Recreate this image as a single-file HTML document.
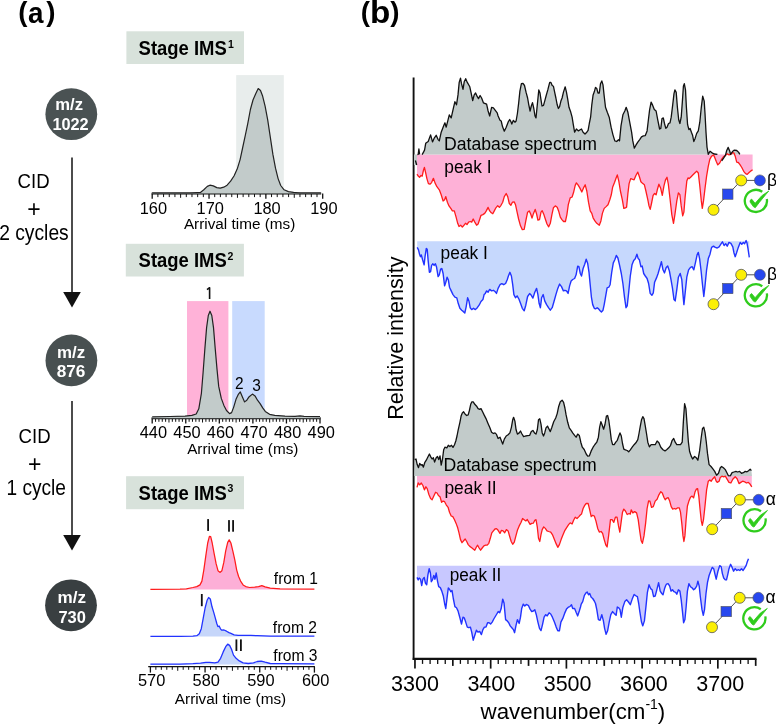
<!DOCTYPE html>
<html><head><meta charset="utf-8"><style>
html,body{margin:0;padding:0;background:#fff;}
svg{display:block;will-change:transform;}
</style></head><body>
<svg width="776" height="724" viewBox="0 0 776 724">
<text x="18.2" y="21.2" font-family="Liberation Sans, sans-serif" font-weight="bold" font-size="27.7">(</text>
<text x="46.3" y="21.2" font-family="Liberation Sans, sans-serif" font-weight="bold" font-size="27.7">)</text>
<text x="28.0" y="22.6" font-family="Liberation Sans, sans-serif" font-weight="bold" font-size="29.4" textLength="15.5" lengthAdjust="spacingAndGlyphs">a</text>
<text x="360.7" y="21.2" font-family="Liberation Sans, sans-serif" font-weight="bold" font-size="27.7">(</text>
<text x="390.2" y="21.2" font-family="Liberation Sans, sans-serif" font-weight="bold" font-size="27.7">)</text>
<text x="369.9" y="22.6" font-family="Liberation Sans, sans-serif" font-weight="bold" font-size="31.5" textLength="20.3" lengthAdjust="spacingAndGlyphs">b</text>
<circle cx="71.3" cy="114.2" r="25.9" fill="#4a5253"/>
<text x="55.199999999999996" y="109.9" font-family="Liberation Sans, sans-serif" font-weight="bold" font-size="16.3" fill="#fff" textLength="27.8" lengthAdjust="spacingAndGlyphs">m/z</text>
<text x="52.4" y="130.3" font-family="Liberation Sans, sans-serif" font-weight="bold" font-size="16.3" fill="#fff" textLength="36.3" lengthAdjust="spacingAndGlyphs">1022</text>
<circle cx="71.4" cy="360.4" r="25.9" fill="#485051"/>
<text x="57.0" y="357.8" font-family="Liberation Sans, sans-serif" font-weight="bold" font-size="16.3" fill="#fff" textLength="28.2" lengthAdjust="spacingAndGlyphs">m/z</text>
<text x="56.699999999999996" y="377.2" font-family="Liberation Sans, sans-serif" font-weight="bold" font-size="16.3" fill="#fff" textLength="28.7" lengthAdjust="spacingAndGlyphs">876</text>
<circle cx="71.0" cy="605.3" r="25.9" fill="#393f41"/>
<text x="57.5" y="603.4" font-family="Liberation Sans, sans-serif" font-weight="bold" font-size="16.3" fill="#fff" textLength="28.5" lengthAdjust="spacingAndGlyphs">m/z</text>
<text x="58.4" y="623.1" font-family="Liberation Sans, sans-serif" font-weight="bold" font-size="16.3" fill="#fff" textLength="27.5" lengthAdjust="spacingAndGlyphs">730</text>
<line x1="72" y1="157.6" x2="72" y2="293" stroke="#111" stroke-width="1.5"/>
<polygon points="63.2,292 80.8,292 72,307.5" fill="#111"/>
<line x1="72" y1="401" x2="72" y2="536" stroke="#111" stroke-width="1.5"/>
<polygon points="63.2,535 80.8,535 72,550.5" fill="#111"/>
<text x="17.6" y="188.3" font-family="Liberation Sans, sans-serif" font-size="19.8" textLength="32" lengthAdjust="spacingAndGlyphs">CID</text>
<text x="34.0" y="217.1" font-family="Liberation Sans, sans-serif" font-size="23" text-anchor="middle">+</text>
<text x="-0.8" y="239.6" font-family="Liberation Sans, sans-serif" font-size="21.3" textLength="69.5" lengthAdjust="spacingAndGlyphs">2 cycles</text>
<text x="18.6" y="443.2" font-family="Liberation Sans, sans-serif" font-size="19.8" textLength="32" lengthAdjust="spacingAndGlyphs">CID</text>
<text x="34.8" y="471.6" font-family="Liberation Sans, sans-serif" font-size="23" text-anchor="middle">+</text>
<text x="6.5" y="494.90000000000003" font-family="Liberation Sans, sans-serif" font-size="21.3" textLength="59.5" lengthAdjust="spacingAndGlyphs">1 cycle</text>
<rect x="126.4" y="31.3" width="117.6" height="32.7" fill="#d8e2db"/>
<text x="138.6" y="54.6" font-family="Liberation Sans, sans-serif" font-weight="bold" font-size="20.2" textLength="88.2" lengthAdjust="spacingAndGlyphs">Stage IMS</text>
<text x="228.0" y="47.5" font-family="Liberation Sans, sans-serif" font-weight="bold" font-size="10.5">1</text>
<rect x="125.8" y="243.8" width="118.10000000000001" height="32.69999999999999" fill="#d8e2db"/>
<text x="138.6" y="267.1" font-family="Liberation Sans, sans-serif" font-weight="bold" font-size="20.2" textLength="88.2" lengthAdjust="spacingAndGlyphs">Stage IMS</text>
<text x="227.6" y="260.0" font-family="Liberation Sans, sans-serif" font-weight="bold" font-size="10.5">2</text>
<rect x="126.1" y="476.2" width="117.9" height="33.0" fill="#d8e2db"/>
<text x="138.6" y="499.5" font-family="Liberation Sans, sans-serif" font-weight="bold" font-size="20.2" textLength="88.2" lengthAdjust="spacingAndGlyphs">Stage IMS</text>
<text x="227.6" y="492.4" font-family="Liberation Sans, sans-serif" font-weight="bold" font-size="10.5">3</text>
<rect x="236.2" y="75.1" width="47.6" height="118.4" fill="#e8edec"/>
<line x1="151.7" y1="193.5" x2="321.2" y2="193.5" stroke="#111" stroke-width="2.2"/>
<line x1="152.20" y1="193.5" x2="152.20" y2="198.8" stroke="#111" stroke-width="1.3"/>
<line x1="157.88" y1="193.5" x2="157.88" y2="197.1" stroke="#111" stroke-width="1"/>
<line x1="163.57" y1="193.5" x2="163.57" y2="197.1" stroke="#111" stroke-width="1"/>
<line x1="169.25" y1="193.5" x2="169.25" y2="197.1" stroke="#111" stroke-width="1"/>
<line x1="174.93" y1="193.5" x2="174.93" y2="197.1" stroke="#111" stroke-width="1"/>
<line x1="180.61" y1="193.5" x2="180.61" y2="197.8" stroke="#111" stroke-width="1"/>
<line x1="186.30" y1="193.5" x2="186.30" y2="197.1" stroke="#111" stroke-width="1"/>
<line x1="191.98" y1="193.5" x2="191.98" y2="197.1" stroke="#111" stroke-width="1"/>
<line x1="197.66" y1="193.5" x2="197.66" y2="197.1" stroke="#111" stroke-width="1"/>
<line x1="203.35" y1="193.5" x2="203.35" y2="197.1" stroke="#111" stroke-width="1"/>
<line x1="209.03" y1="193.5" x2="209.03" y2="198.8" stroke="#111" stroke-width="1.3"/>
<line x1="214.71" y1="193.5" x2="214.71" y2="197.1" stroke="#111" stroke-width="1"/>
<line x1="220.40" y1="193.5" x2="220.40" y2="197.1" stroke="#111" stroke-width="1"/>
<line x1="226.08" y1="193.5" x2="226.08" y2="197.1" stroke="#111" stroke-width="1"/>
<line x1="231.76" y1="193.5" x2="231.76" y2="197.1" stroke="#111" stroke-width="1"/>
<line x1="237.44" y1="193.5" x2="237.44" y2="197.8" stroke="#111" stroke-width="1"/>
<line x1="243.13" y1="193.5" x2="243.13" y2="197.1" stroke="#111" stroke-width="1"/>
<line x1="248.81" y1="193.5" x2="248.81" y2="197.1" stroke="#111" stroke-width="1"/>
<line x1="254.49" y1="193.5" x2="254.49" y2="197.1" stroke="#111" stroke-width="1"/>
<line x1="260.18" y1="193.5" x2="260.18" y2="197.1" stroke="#111" stroke-width="1"/>
<line x1="265.86" y1="193.5" x2="265.86" y2="198.8" stroke="#111" stroke-width="1.3"/>
<line x1="271.54" y1="193.5" x2="271.54" y2="197.1" stroke="#111" stroke-width="1"/>
<line x1="277.23" y1="193.5" x2="277.23" y2="197.1" stroke="#111" stroke-width="1"/>
<line x1="282.91" y1="193.5" x2="282.91" y2="197.1" stroke="#111" stroke-width="1"/>
<line x1="288.59" y1="193.5" x2="288.59" y2="197.1" stroke="#111" stroke-width="1"/>
<line x1="294.27" y1="193.5" x2="294.27" y2="197.8" stroke="#111" stroke-width="1"/>
<line x1="299.96" y1="193.5" x2="299.96" y2="197.1" stroke="#111" stroke-width="1"/>
<line x1="305.64" y1="193.5" x2="305.64" y2="197.1" stroke="#111" stroke-width="1"/>
<line x1="311.32" y1="193.5" x2="311.32" y2="197.1" stroke="#111" stroke-width="1"/>
<line x1="317.01" y1="193.5" x2="317.01" y2="197.1" stroke="#111" stroke-width="1"/>
<line x1="322.69" y1="193.5" x2="322.69" y2="198.8" stroke="#111" stroke-width="1.3"/>
<text x="153.40" y="213.5" font-family="Liberation Sans, sans-serif" font-size="16.4" text-anchor="middle">160</text>
<text x="210.23" y="213.5" font-family="Liberation Sans, sans-serif" font-size="16.4" text-anchor="middle">170</text>
<text x="267.06" y="213.5" font-family="Liberation Sans, sans-serif" font-size="16.4" text-anchor="middle">180</text>
<text x="323.89" y="213.5" font-family="Liberation Sans, sans-serif" font-size="16.4" text-anchor="middle">190</text>
<text x="239.6" y="229" font-family="Liberation Sans, sans-serif" font-size="15.3" text-anchor="middle">Arrival time (ms)</text>
<rect x="187" y="301.1" width="41.4" height="117" fill="#ffb2d8"/>
<rect x="232.2" y="301.1" width="32.5" height="117" fill="#c8dafe"/>
<line x1="151.7" y1="418.2" x2="320.5" y2="418.2" stroke="#111" stroke-width="2.2"/>
<line x1="152.20" y1="418.2" x2="152.20" y2="423.5" stroke="#111" stroke-width="1.3"/>
<line x1="155.56" y1="418.2" x2="155.56" y2="421.8" stroke="#111" stroke-width="1"/>
<line x1="158.91" y1="418.2" x2="158.91" y2="421.8" stroke="#111" stroke-width="1"/>
<line x1="162.27" y1="418.2" x2="162.27" y2="421.8" stroke="#111" stroke-width="1"/>
<line x1="165.62" y1="418.2" x2="165.62" y2="421.8" stroke="#111" stroke-width="1"/>
<line x1="168.98" y1="418.2" x2="168.98" y2="422.5" stroke="#111" stroke-width="1"/>
<line x1="172.34" y1="418.2" x2="172.34" y2="421.8" stroke="#111" stroke-width="1"/>
<line x1="175.69" y1="418.2" x2="175.69" y2="421.8" stroke="#111" stroke-width="1"/>
<line x1="179.05" y1="418.2" x2="179.05" y2="421.8" stroke="#111" stroke-width="1"/>
<line x1="182.40" y1="418.2" x2="182.40" y2="421.8" stroke="#111" stroke-width="1"/>
<line x1="185.76" y1="418.2" x2="185.76" y2="423.5" stroke="#111" stroke-width="1.3"/>
<line x1="189.12" y1="418.2" x2="189.12" y2="421.8" stroke="#111" stroke-width="1"/>
<line x1="192.47" y1="418.2" x2="192.47" y2="421.8" stroke="#111" stroke-width="1"/>
<line x1="195.83" y1="418.2" x2="195.83" y2="421.8" stroke="#111" stroke-width="1"/>
<line x1="199.18" y1="418.2" x2="199.18" y2="421.8" stroke="#111" stroke-width="1"/>
<line x1="202.54" y1="418.2" x2="202.54" y2="422.5" stroke="#111" stroke-width="1"/>
<line x1="205.90" y1="418.2" x2="205.90" y2="421.8" stroke="#111" stroke-width="1"/>
<line x1="209.25" y1="418.2" x2="209.25" y2="421.8" stroke="#111" stroke-width="1"/>
<line x1="212.61" y1="418.2" x2="212.61" y2="421.8" stroke="#111" stroke-width="1"/>
<line x1="215.96" y1="418.2" x2="215.96" y2="421.8" stroke="#111" stroke-width="1"/>
<line x1="219.32" y1="418.2" x2="219.32" y2="423.5" stroke="#111" stroke-width="1.3"/>
<line x1="222.68" y1="418.2" x2="222.68" y2="421.8" stroke="#111" stroke-width="1"/>
<line x1="226.03" y1="418.2" x2="226.03" y2="421.8" stroke="#111" stroke-width="1"/>
<line x1="229.39" y1="418.2" x2="229.39" y2="421.8" stroke="#111" stroke-width="1"/>
<line x1="232.74" y1="418.2" x2="232.74" y2="421.8" stroke="#111" stroke-width="1"/>
<line x1="236.10" y1="418.2" x2="236.10" y2="422.5" stroke="#111" stroke-width="1"/>
<line x1="239.46" y1="418.2" x2="239.46" y2="421.8" stroke="#111" stroke-width="1"/>
<line x1="242.81" y1="418.2" x2="242.81" y2="421.8" stroke="#111" stroke-width="1"/>
<line x1="246.17" y1="418.2" x2="246.17" y2="421.8" stroke="#111" stroke-width="1"/>
<line x1="249.52" y1="418.2" x2="249.52" y2="421.8" stroke="#111" stroke-width="1"/>
<line x1="252.88" y1="418.2" x2="252.88" y2="423.5" stroke="#111" stroke-width="1.3"/>
<line x1="256.24" y1="418.2" x2="256.24" y2="421.8" stroke="#111" stroke-width="1"/>
<line x1="259.59" y1="418.2" x2="259.59" y2="421.8" stroke="#111" stroke-width="1"/>
<line x1="262.95" y1="418.2" x2="262.95" y2="421.8" stroke="#111" stroke-width="1"/>
<line x1="266.30" y1="418.2" x2="266.30" y2="421.8" stroke="#111" stroke-width="1"/>
<line x1="269.66" y1="418.2" x2="269.66" y2="422.5" stroke="#111" stroke-width="1"/>
<line x1="273.02" y1="418.2" x2="273.02" y2="421.8" stroke="#111" stroke-width="1"/>
<line x1="276.37" y1="418.2" x2="276.37" y2="421.8" stroke="#111" stroke-width="1"/>
<line x1="279.73" y1="418.2" x2="279.73" y2="421.8" stroke="#111" stroke-width="1"/>
<line x1="283.08" y1="418.2" x2="283.08" y2="421.8" stroke="#111" stroke-width="1"/>
<line x1="286.44" y1="418.2" x2="286.44" y2="423.5" stroke="#111" stroke-width="1.3"/>
<line x1="289.80" y1="418.2" x2="289.80" y2="421.8" stroke="#111" stroke-width="1"/>
<line x1="293.15" y1="418.2" x2="293.15" y2="421.8" stroke="#111" stroke-width="1"/>
<line x1="296.51" y1="418.2" x2="296.51" y2="421.8" stroke="#111" stroke-width="1"/>
<line x1="299.86" y1="418.2" x2="299.86" y2="421.8" stroke="#111" stroke-width="1"/>
<line x1="303.22" y1="418.2" x2="303.22" y2="422.5" stroke="#111" stroke-width="1"/>
<line x1="306.58" y1="418.2" x2="306.58" y2="421.8" stroke="#111" stroke-width="1"/>
<line x1="309.93" y1="418.2" x2="309.93" y2="421.8" stroke="#111" stroke-width="1"/>
<line x1="313.29" y1="418.2" x2="313.29" y2="421.8" stroke="#111" stroke-width="1"/>
<line x1="316.64" y1="418.2" x2="316.64" y2="421.8" stroke="#111" stroke-width="1"/>
<line x1="320.00" y1="418.2" x2="320.00" y2="423.5" stroke="#111" stroke-width="1.3"/>
<text x="153.40" y="438.3" font-family="Liberation Sans, sans-serif" font-size="16.4" text-anchor="middle">440</text>
<text x="186.96" y="438.3" font-family="Liberation Sans, sans-serif" font-size="16.4" text-anchor="middle">450</text>
<text x="220.52" y="438.3" font-family="Liberation Sans, sans-serif" font-size="16.4" text-anchor="middle">460</text>
<text x="254.08" y="438.3" font-family="Liberation Sans, sans-serif" font-size="16.4" text-anchor="middle">470</text>
<text x="287.64" y="438.3" font-family="Liberation Sans, sans-serif" font-size="16.4" text-anchor="middle">480</text>
<text x="321.20" y="438.3" font-family="Liberation Sans, sans-serif" font-size="16.4" text-anchor="middle">490</text>
<text x="242.8" y="454" font-family="Liberation Sans, sans-serif" font-size="15.3" text-anchor="middle">Arrival time (ms)</text>
<line x1="148.2" y1="666.6" x2="314.9" y2="666.6" stroke="#111" stroke-width="1.3"/>
<line x1="150.40" y1="666.6" x2="150.40" y2="672.6" stroke="#111" stroke-width="1.3"/>
<line x1="155.87" y1="666.6" x2="155.87" y2="669.8000000000001" stroke="#111" stroke-width="1"/>
<line x1="161.33" y1="666.6" x2="161.33" y2="669.8000000000001" stroke="#111" stroke-width="1"/>
<line x1="166.80" y1="666.6" x2="166.80" y2="669.8000000000001" stroke="#111" stroke-width="1"/>
<line x1="172.27" y1="666.6" x2="172.27" y2="669.8000000000001" stroke="#111" stroke-width="1"/>
<line x1="177.74" y1="666.6" x2="177.74" y2="670.8000000000001" stroke="#111" stroke-width="1"/>
<line x1="183.20" y1="666.6" x2="183.20" y2="669.8000000000001" stroke="#111" stroke-width="1"/>
<line x1="188.67" y1="666.6" x2="188.67" y2="669.8000000000001" stroke="#111" stroke-width="1"/>
<line x1="194.14" y1="666.6" x2="194.14" y2="669.8000000000001" stroke="#111" stroke-width="1"/>
<line x1="199.60" y1="666.6" x2="199.60" y2="669.8000000000001" stroke="#111" stroke-width="1"/>
<line x1="205.07" y1="666.6" x2="205.07" y2="672.6" stroke="#111" stroke-width="1.3"/>
<line x1="210.54" y1="666.6" x2="210.54" y2="669.8000000000001" stroke="#111" stroke-width="1"/>
<line x1="216.00" y1="666.6" x2="216.00" y2="669.8000000000001" stroke="#111" stroke-width="1"/>
<line x1="221.47" y1="666.6" x2="221.47" y2="669.8000000000001" stroke="#111" stroke-width="1"/>
<line x1="226.94" y1="666.6" x2="226.94" y2="669.8000000000001" stroke="#111" stroke-width="1"/>
<line x1="232.41" y1="666.6" x2="232.41" y2="670.8000000000001" stroke="#111" stroke-width="1"/>
<line x1="237.87" y1="666.6" x2="237.87" y2="669.8000000000001" stroke="#111" stroke-width="1"/>
<line x1="243.34" y1="666.6" x2="243.34" y2="669.8000000000001" stroke="#111" stroke-width="1"/>
<line x1="248.81" y1="666.6" x2="248.81" y2="669.8000000000001" stroke="#111" stroke-width="1"/>
<line x1="254.27" y1="666.6" x2="254.27" y2="669.8000000000001" stroke="#111" stroke-width="1"/>
<line x1="259.74" y1="666.6" x2="259.74" y2="672.6" stroke="#111" stroke-width="1.3"/>
<line x1="265.21" y1="666.6" x2="265.21" y2="669.8000000000001" stroke="#111" stroke-width="1"/>
<line x1="270.67" y1="666.6" x2="270.67" y2="669.8000000000001" stroke="#111" stroke-width="1"/>
<line x1="276.14" y1="666.6" x2="276.14" y2="669.8000000000001" stroke="#111" stroke-width="1"/>
<line x1="281.61" y1="666.6" x2="281.61" y2="669.8000000000001" stroke="#111" stroke-width="1"/>
<line x1="287.07" y1="666.6" x2="287.07" y2="670.8000000000001" stroke="#111" stroke-width="1"/>
<line x1="292.54" y1="666.6" x2="292.54" y2="669.8000000000001" stroke="#111" stroke-width="1"/>
<line x1="298.01" y1="666.6" x2="298.01" y2="669.8000000000001" stroke="#111" stroke-width="1"/>
<line x1="303.48" y1="666.6" x2="303.48" y2="669.8000000000001" stroke="#111" stroke-width="1"/>
<line x1="308.94" y1="666.6" x2="308.94" y2="669.8000000000001" stroke="#111" stroke-width="1"/>
<line x1="314.41" y1="666.6" x2="314.41" y2="672.6" stroke="#111" stroke-width="1.3"/>
<text x="151.60" y="686.3" font-family="Liberation Sans, sans-serif" font-size="16.4" text-anchor="middle">570</text>
<text x="206.27" y="686.3" font-family="Liberation Sans, sans-serif" font-size="16.4" text-anchor="middle">580</text>
<text x="260.94" y="686.3" font-family="Liberation Sans, sans-serif" font-size="16.4" text-anchor="middle">590</text>
<text x="315.61" y="686.3" font-family="Liberation Sans, sans-serif" font-size="16.4" text-anchor="middle">600</text>
<text x="230.5" y="703.8" font-family="Liberation Sans, sans-serif" font-size="15.3" text-anchor="middle">Arrival time (ms)</text>
<line x1="413.6" y1="77.5" x2="413.6" y2="660.0" stroke="#111" stroke-width="1.9"/>
<line x1="412.7" y1="658.9" x2="756.5" y2="658.9" stroke="#111" stroke-width="2.2"/>
<line x1="414.96" y1="658.9" x2="414.96" y2="668.6" stroke="#111" stroke-width="1.7"/>
<line x1="422.53" y1="658.9" x2="422.53" y2="663.9" stroke="#111" stroke-width="1.3"/>
<line x1="430.10" y1="658.9" x2="430.10" y2="663.9" stroke="#111" stroke-width="1.3"/>
<line x1="437.68" y1="658.9" x2="437.68" y2="663.9" stroke="#111" stroke-width="1.3"/>
<line x1="445.25" y1="658.9" x2="445.25" y2="663.9" stroke="#111" stroke-width="1.3"/>
<line x1="452.82" y1="658.9" x2="452.82" y2="665.9" stroke="#111" stroke-width="1.7"/>
<line x1="460.39" y1="658.9" x2="460.39" y2="663.9" stroke="#111" stroke-width="1.3"/>
<line x1="467.96" y1="658.9" x2="467.96" y2="663.9" stroke="#111" stroke-width="1.3"/>
<line x1="475.54" y1="658.9" x2="475.54" y2="663.9" stroke="#111" stroke-width="1.3"/>
<line x1="483.11" y1="658.9" x2="483.11" y2="663.9" stroke="#111" stroke-width="1.3"/>
<line x1="490.68" y1="658.9" x2="490.68" y2="668.6" stroke="#111" stroke-width="1.7"/>
<line x1="498.25" y1="658.9" x2="498.25" y2="663.9" stroke="#111" stroke-width="1.3"/>
<line x1="505.82" y1="658.9" x2="505.82" y2="663.9" stroke="#111" stroke-width="1.3"/>
<line x1="513.40" y1="658.9" x2="513.40" y2="663.9" stroke="#111" stroke-width="1.3"/>
<line x1="520.97" y1="658.9" x2="520.97" y2="663.9" stroke="#111" stroke-width="1.3"/>
<line x1="528.54" y1="658.9" x2="528.54" y2="665.9" stroke="#111" stroke-width="1.7"/>
<line x1="536.11" y1="658.9" x2="536.11" y2="663.9" stroke="#111" stroke-width="1.3"/>
<line x1="543.68" y1="658.9" x2="543.68" y2="663.9" stroke="#111" stroke-width="1.3"/>
<line x1="551.26" y1="658.9" x2="551.26" y2="663.9" stroke="#111" stroke-width="1.3"/>
<line x1="558.83" y1="658.9" x2="558.83" y2="663.9" stroke="#111" stroke-width="1.3"/>
<line x1="566.40" y1="658.9" x2="566.40" y2="668.6" stroke="#111" stroke-width="1.7"/>
<line x1="573.97" y1="658.9" x2="573.97" y2="663.9" stroke="#111" stroke-width="1.3"/>
<line x1="581.54" y1="658.9" x2="581.54" y2="663.9" stroke="#111" stroke-width="1.3"/>
<line x1="589.12" y1="658.9" x2="589.12" y2="663.9" stroke="#111" stroke-width="1.3"/>
<line x1="596.69" y1="658.9" x2="596.69" y2="663.9" stroke="#111" stroke-width="1.3"/>
<line x1="604.26" y1="658.9" x2="604.26" y2="665.9" stroke="#111" stroke-width="1.7"/>
<line x1="611.83" y1="658.9" x2="611.83" y2="663.9" stroke="#111" stroke-width="1.3"/>
<line x1="619.40" y1="658.9" x2="619.40" y2="663.9" stroke="#111" stroke-width="1.3"/>
<line x1="626.98" y1="658.9" x2="626.98" y2="663.9" stroke="#111" stroke-width="1.3"/>
<line x1="634.55" y1="658.9" x2="634.55" y2="663.9" stroke="#111" stroke-width="1.3"/>
<line x1="642.12" y1="658.9" x2="642.12" y2="668.6" stroke="#111" stroke-width="1.7"/>
<line x1="649.69" y1="658.9" x2="649.69" y2="663.9" stroke="#111" stroke-width="1.3"/>
<line x1="657.26" y1="658.9" x2="657.26" y2="663.9" stroke="#111" stroke-width="1.3"/>
<line x1="664.84" y1="658.9" x2="664.84" y2="663.9" stroke="#111" stroke-width="1.3"/>
<line x1="672.41" y1="658.9" x2="672.41" y2="663.9" stroke="#111" stroke-width="1.3"/>
<line x1="679.98" y1="658.9" x2="679.98" y2="665.9" stroke="#111" stroke-width="1.7"/>
<line x1="687.55" y1="658.9" x2="687.55" y2="663.9" stroke="#111" stroke-width="1.3"/>
<line x1="695.12" y1="658.9" x2="695.12" y2="663.9" stroke="#111" stroke-width="1.3"/>
<line x1="702.70" y1="658.9" x2="702.70" y2="663.9" stroke="#111" stroke-width="1.3"/>
<line x1="710.27" y1="658.9" x2="710.27" y2="663.9" stroke="#111" stroke-width="1.3"/>
<line x1="717.84" y1="658.9" x2="717.84" y2="668.6" stroke="#111" stroke-width="1.7"/>
<line x1="725.41" y1="658.9" x2="725.41" y2="663.9" stroke="#111" stroke-width="1.3"/>
<line x1="732.98" y1="658.9" x2="732.98" y2="663.9" stroke="#111" stroke-width="1.3"/>
<line x1="740.56" y1="658.9" x2="740.56" y2="663.9" stroke="#111" stroke-width="1.3"/>
<line x1="748.13" y1="658.9" x2="748.13" y2="663.9" stroke="#111" stroke-width="1.3"/>
<line x1="755.70" y1="658.9" x2="755.70" y2="665.9" stroke="#111" stroke-width="1.7"/>
<text x="415.00" y="690.6" font-family="Liberation Sans, sans-serif" font-size="21.5" text-anchor="middle">3300</text>
<text x="491.30" y="690.6" font-family="Liberation Sans, sans-serif" font-size="21.5" text-anchor="middle">3400</text>
<text x="567.60" y="690.6" font-family="Liberation Sans, sans-serif" font-size="21.5" text-anchor="middle">3500</text>
<text x="643.90" y="690.6" font-family="Liberation Sans, sans-serif" font-size="21.5" text-anchor="middle">3600</text>
<text x="720.20" y="690.6" font-family="Liberation Sans, sans-serif" font-size="21.5" text-anchor="middle">3700</text>
<text x="480.6" y="719" font-family="Liberation Sans, sans-serif" font-size="22.3">wavenumber(cm<tspan font-size="14" dy="-10">-1</tspan><tspan dy="10">)</tspan></text>
<text transform="translate(403.4,419.8) rotate(-90)" font-family="Liberation Sans, sans-serif" font-size="21.6">Relative intensity</text>
<polygon points="417.0,154.5 417.0,174.2 418.2,176.1 419.5,177.3 421.0,175.5 422.2,176.1 423.4,170.5 424.4,167.4 425.7,173.0 426.9,178.6 428.4,183.6 430.0,184.2 431.6,182.6 433.4,178.3 435.0,182.9 436.9,186.7 439.3,189.8 441.2,194.8 443.1,201.0 444.6,199.7 445.8,196.6 447.4,202.2 449.0,205.9 450.8,208.4 452.4,210.9 454.3,210.9 456.1,217.1 457.7,223.3 459.0,226.5 460.7,225.2 462.3,227.1 464.0,225.2 465.5,223.3 467.0,224.6 468.6,222.1 470.2,221.5 471.7,222.1 473.2,219.0 474.8,222.1 476.6,225.2 478.1,224.0 479.8,219.0 481.0,215.3 482.9,214.6 484.7,213.4 486.3,210.9 488.1,207.4 489.7,210.9 491.3,212.8 492.8,213.7 494.3,210.9 495.9,207.8 497.7,205.7 499.4,207.4 501.0,205.3 502.7,202.2 504.3,196.6 506.2,193.5 507.7,196.6 509.3,203.5 510.9,205.3 512.4,202.2 514.3,202.0 515.5,204.7 517.1,212.2 518.6,219.0 520.5,225.8 522.3,229.6 524.2,229.3 525.8,220.9 527.6,212.2 529.2,210.9 530.7,214.0 532.0,218.1 533.5,213.4 535.2,209.4 536.6,214.0 537.9,220.2 539.5,219.6 541.0,212.2 542.2,210.7 543.9,214.6 545.3,219.0 547.0,224.0 548.7,226.8 550.3,223.3 551.9,214.6 553.4,207.8 555.3,205.9 557.2,207.2 558.6,210.9 560.3,217.1 561.9,219.6 563.6,221.5 565.4,221.5 566.9,214.6 568.3,204.7 570.2,197.9 572.1,197.0 573.6,192.3 575.2,185.4 576.4,182.9 578.0,184.8 579.8,187.9 581.8,192.0 583.5,187.9 585.2,184.8 586.8,191.0 588.5,202.2 590.2,210.9 591.8,213.4 593.1,217.8 594.9,220.9 596.8,223.3 599.3,225.2 600.9,220.9 602.4,213.4 604.2,208.4 606.1,206.6 608.0,204.7 609.8,199.7 611.3,194.8 612.6,187.3 614.6,182.3 616.1,178.0 617.3,174.9 618.8,181.1 620.4,191.0 622.3,199.7 623.8,208.4 625.4,207.8 626.6,207.2 627.9,193.5 629.1,183.6 630.7,178.6 632.2,179.2 634.1,179.8 635.9,175.5 637.8,172.1 639.4,176.7 640.9,181.7 642.8,183.6 644.4,184.8 645.9,191.0 647.8,199.7 649.0,205.9 650.2,209.4 651.5,203.5 653.1,195.4 654.6,193.5 656.1,194.8 657.3,189.8 658.9,184.2 660.6,187.9 662.3,195.4 663.9,186.1 665.5,179.8 667.0,177.3 668.3,184.0 670.0,198.5 671.8,214.6 673.5,223.3 674.9,214.6 676.8,200.9 678.4,192.9 679.9,194.7 681.2,205.9 682.7,215.9 683.9,212.1 685.1,197.2 686.8,181.1 688.0,177.9 689.2,178.6 691.1,176.7 693.0,174.8 694.8,173.0 696.7,171.1 698.3,173.0 699.8,186.0 701.3,200.9 702.3,208.4 703.5,200.9 705.0,188.5 706.6,176.1 708.3,166.1 709.8,159.3 711.6,156.2 713.5,154.9 714.7,157.4 716.2,161.2 717.8,164.9 719.7,163.0 721.6,159.3 723.4,156.8 725.3,155.6 727.2,154.5 729.0,154.9 730.9,154.5 732.8,154.5 734.0,154.5 735.2,156.2 736.7,162.1 738.3,162.5 739.8,164.4 741.8,167.5 743.7,171.3 745.6,173.7 747.2,174.4 749.1,172.5 751.4,170.6 752.6,169.8 752.6,154.5" fill="#feb1d7"/>
<polygon points="414.2,154.5 414.2,154.5 417.4,154.5 418.2,154.4 418.9,149.0 419.6,154.4 422.1,154.5 423.5,152.2 424.6,149.9 425.7,143.3 427.1,142.2 428.2,141.5 430.6,134.9 432.5,141.9 434.4,137.8 436.2,135.3 438.1,139.6 439.3,140.9 441.2,132.2 443.1,127.2 444.9,122.8 446.2,127.2 448.1,119.7 449.3,114.8 451.2,117.9 453.0,109.8 454.9,101.7 456.5,104.8 458.0,94.9 459.2,82.4 460.5,78.1 461.5,83.7 463.0,89.3 464.2,81.8 465.7,78.7 467.3,82.4 469.8,86.8 471.0,92.4 472.7,100.5 474.2,94.9 475.6,93.0 477.3,96.7 478.5,98.6 480.1,95.5 481.6,98.0 483.5,102.9 485.3,103.6 486.6,104.2 488.1,111.0 489.7,116.0 491.6,107.3 493.4,107.9 495.3,110.4 497.2,112.9 498.1,116.0 500.0,120.3 501.2,121.0 502.5,126.6 504.3,131.2 506.2,127.2 508.1,122.2 509.7,119.5 510.9,121.6 511.8,124.1 513.4,120.3 514.9,122.2 516.1,121.0 517.4,113.5 518.6,103.6 519.9,91.1 521.4,83.7 523.0,83.4 524.5,85.5 526.1,92.4 527.6,98.0 528.8,104.8 530.1,111.0 531.3,106.0 532.5,102.6 533.8,108.5 535.0,116.0 536.0,117.9 537.3,104.8 538.8,89.9 540.0,93.0 541.0,99.8 542.0,106.0 543.5,105.4 544.7,101.1 546.2,95.5 547.8,89.9 549.7,82.4 550.9,82.4 552.2,85.5 553.4,86.2 554.7,92.4 555.9,98.0 557.2,104.8 558.4,108.5 559.6,106.7 560.9,101.1 562.1,98.0 563.4,92.4 565.2,86.8 566.5,92.4 567.7,99.2 569.0,107.3 570.8,112.3 572.1,117.2 573.3,124.7 574.6,132.2 576.4,129.0 578.3,130.9 580.2,129.7 581.5,129.0 583.1,132.2 585.0,134.0 586.8,132.2 588.1,130.3 589.3,123.5 590.6,117.2 591.8,104.8 593.1,94.9 594.3,91.8 595.5,87.4 596.8,88.6 598.0,93.0 599.3,93.0 600.5,83.7 601.8,80.9 603.0,84.9 604.2,96.1 605.5,107.3 607.3,112.3 609.2,117.2 611.1,127.2 612.9,134.6 614.8,140.9 616.7,141.5 618.5,139.6 619.5,140.9 621.0,125.9 622.9,114.8 624.8,111.0 626.2,107.3 627.9,112.3 629.7,122.2 631.6,132.2 632.8,140.9 634.3,148.1 635.9,145.2 637.8,142.1 639.7,139.6 641.5,136.9 643.4,135.9 645.3,135.6 647.1,130.9 648.4,119.7 649.6,109.8 651.1,102.1 652.7,105.4 654.3,109.5 656.1,111.0 657.7,119.7 659.6,129.0 660.8,128.4 662.0,118.5 663.3,117.9 664.5,123.5 665.8,128.4 667.0,127.2 668.5,123.5 670.0,122.8 671.2,117.2 672.7,104.8 674.0,93.6 674.9,89.9 676.2,92.4 677.4,107.3 678.7,119.7 679.9,123.5 681.2,117.2 682.4,101.1 683.4,86.2 684.3,83.7 685.5,89.9 686.4,107.3 687.6,124.7 688.9,129.7 690.1,128.4 691.4,132.2 692.6,135.3 693.8,141.5 695.1,138.4 696.7,133.4 698.3,130.9 699.8,122.2 701.3,107.3 702.7,96.1 704.2,101.1 705.0,113.5 706.0,132.2 707.0,147.1 708.3,154.3 710.0,151.2 712.0,152.8 714.3,154.0 717.4,154.4 719.5,154.5 721.7,154.5 723.6,154.5 725.5,154.5 726.7,150.5 728.2,147.4 729.8,151.2 730.5,154.3 732.5,151.6 734.4,150.1 736.7,150.5 738.7,152.4 739.8,154.3 739.8,154.5" fill="#c2cbca"/>
<rect x="414" y="154.5" width="3" height="10.5" fill="#c2cbca"/>
<line x1="415.4" y1="160.5" x2="416.7" y2="165" stroke="#111" stroke-width="1.3"/>
<polyline points="417.0,174.2 418.2,176.1 419.5,177.3 421.0,175.5 422.2,176.1 423.4,170.5 424.4,167.4 425.7,173.0 426.9,178.6 428.4,183.6 430.0,184.2 431.6,182.6 433.4,178.3 435.0,182.9 436.9,186.7 439.3,189.8 441.2,194.8 443.1,201.0 444.6,199.7 445.8,196.6 447.4,202.2 449.0,205.9 450.8,208.4 452.4,210.9 454.3,210.9 456.1,217.1 457.7,223.3 459.0,226.5 460.7,225.2 462.3,227.1 464.0,225.2 465.5,223.3 467.0,224.6 468.6,222.1 470.2,221.5 471.7,222.1 473.2,219.0 474.8,222.1 476.6,225.2 478.1,224.0 479.8,219.0 481.0,215.3 482.9,214.6 484.7,213.4 486.3,210.9 488.1,207.4 489.7,210.9 491.3,212.8 492.8,213.7 494.3,210.9 495.9,207.8 497.7,205.7 499.4,207.4 501.0,205.3 502.7,202.2 504.3,196.6 506.2,193.5 507.7,196.6 509.3,203.5 510.9,205.3 512.4,202.2 514.3,202.0 515.5,204.7 517.1,212.2 518.6,219.0 520.5,225.8 522.3,229.6 524.2,229.3 525.8,220.9 527.6,212.2 529.2,210.9 530.7,214.0 532.0,218.1 533.5,213.4 535.2,209.4 536.6,214.0 537.9,220.2 539.5,219.6 541.0,212.2 542.2,210.7 543.9,214.6 545.3,219.0 547.0,224.0 548.7,226.8 550.3,223.3 551.9,214.6 553.4,207.8 555.3,205.9 557.2,207.2 558.6,210.9 560.3,217.1 561.9,219.6 563.6,221.5 565.4,221.5 566.9,214.6 568.3,204.7 570.2,197.9 572.1,197.0 573.6,192.3 575.2,185.4 576.4,182.9 578.0,184.8 579.8,187.9 581.8,192.0 583.5,187.9 585.2,184.8 586.8,191.0 588.5,202.2 590.2,210.9 591.8,213.4 593.1,217.8 594.9,220.9 596.8,223.3 599.3,225.2 600.9,220.9 602.4,213.4 604.2,208.4 606.1,206.6 608.0,204.7 609.8,199.7 611.3,194.8 612.6,187.3 614.6,182.3 616.1,178.0 617.3,174.9 618.8,181.1 620.4,191.0 622.3,199.7 623.8,208.4 625.4,207.8 626.6,207.2 627.9,193.5 629.1,183.6 630.7,178.6 632.2,179.2 634.1,179.8 635.9,175.5 637.8,172.1 639.4,176.7 640.9,181.7 642.8,183.6 644.4,184.8 645.9,191.0 647.8,199.7 649.0,205.9 650.2,209.4 651.5,203.5 653.1,195.4 654.6,193.5 656.1,194.8 657.3,189.8 658.9,184.2 660.6,187.9 662.3,195.4 663.9,186.1 665.5,179.8 667.0,177.3 668.3,184.0 670.0,198.5 671.8,214.6 673.5,223.3 674.9,214.6 676.8,200.9 678.4,192.9 679.9,194.7 681.2,205.9 682.7,215.9 683.9,212.1 685.1,197.2 686.8,181.1 688.0,177.9 689.2,178.6 691.1,176.7 693.0,174.8 694.8,173.0 696.7,171.1 698.3,173.0 699.8,186.0 701.3,200.9 702.3,208.4 703.5,200.9 705.0,188.5 706.6,176.1 708.3,166.1 709.8,159.3 711.6,156.2 713.5,154.9 714.7,157.4 716.2,161.2 717.8,164.9 719.7,163.0 721.6,159.3 723.4,156.8 725.3,155.6 727.2,153.7 729.0,154.9 730.9,154.3 732.8,152.5 734.0,153.1 735.2,156.2 736.7,162.1 738.3,162.5 739.8,164.4 741.8,167.5 743.7,171.3 745.6,173.7 747.2,174.4 749.1,172.5 751.4,170.6 752.6,169.8" fill="none" stroke="#ff1c1c" stroke-width="1.3" stroke-linejoin="round"/>
<polyline points="417.4,154.6 418.2,154.4 418.9,149.0 419.6,154.4" fill="none" stroke="#111" stroke-width="1.3" stroke-linejoin="round"/>
<polyline points="422.1,154.6 423.5,152.2 424.6,149.9 425.7,143.3 427.1,142.2 428.2,141.5 430.6,134.9 432.5,141.9 434.4,137.8 436.2,135.3 438.1,139.6 439.3,140.9 441.2,132.2 443.1,127.2 444.9,122.8 446.2,127.2 448.1,119.7 449.3,114.8 451.2,117.9 453.0,109.8 454.9,101.7 456.5,104.8 458.0,94.9 459.2,82.4 460.5,78.1 461.5,83.7 463.0,89.3 464.2,81.8 465.7,78.7 467.3,82.4 469.8,86.8 471.0,92.4 472.7,100.5 474.2,94.9 475.6,93.0 477.3,96.7 478.5,98.6 480.1,95.5 481.6,98.0 483.5,102.9 485.3,103.6 486.6,104.2 488.1,111.0 489.7,116.0 491.6,107.3 493.4,107.9 495.3,110.4 497.2,112.9 498.1,116.0 500.0,120.3 501.2,121.0 502.5,126.6 504.3,131.2 506.2,127.2 508.1,122.2 509.7,119.5 510.9,121.6 511.8,124.1 513.4,120.3 514.9,122.2 516.1,121.0 517.4,113.5 518.6,103.6 519.9,91.1 521.4,83.7 523.0,83.4 524.5,85.5 526.1,92.4 527.6,98.0 528.8,104.8 530.1,111.0 531.3,106.0 532.5,102.6 533.8,108.5 535.0,116.0 536.0,117.9 537.3,104.8 538.8,89.9 540.0,93.0 541.0,99.8 542.0,106.0 543.5,105.4 544.7,101.1 546.2,95.5 547.8,89.9 549.7,82.4 550.9,82.4 552.2,85.5 553.4,86.2 554.7,92.4 555.9,98.0 557.2,104.8 558.4,108.5 559.6,106.7 560.9,101.1 562.1,98.0 563.4,92.4 565.2,86.8 566.5,92.4 567.7,99.2 569.0,107.3 570.8,112.3 572.1,117.2 573.3,124.7 574.6,132.2 576.4,129.0 578.3,130.9 580.2,129.7 581.5,129.0 583.1,132.2 585.0,134.0 586.8,132.2 588.1,130.3 589.3,123.5 590.6,117.2 591.8,104.8 593.1,94.9 594.3,91.8 595.5,87.4 596.8,88.6 598.0,93.0 599.3,93.0 600.5,83.7 601.8,80.9 603.0,84.9 604.2,96.1 605.5,107.3 607.3,112.3 609.2,117.2 611.1,127.2 612.9,134.6 614.8,140.9 616.7,141.5 618.5,139.6 619.5,140.9 621.0,125.9 622.9,114.8 624.8,111.0 626.2,107.3 627.9,112.3 629.7,122.2 631.6,132.2 632.8,140.9 634.3,148.1 635.9,145.2 637.8,142.1 639.7,139.6 641.5,136.9 643.4,135.9 645.3,135.6 647.1,130.9 648.4,119.7 649.6,109.8 651.1,102.1 652.7,105.4 654.3,109.5 656.1,111.0 657.7,119.7 659.6,129.0 660.8,128.4 662.0,118.5 663.3,117.9 664.5,123.5 665.8,128.4 667.0,127.2 668.5,123.5 670.0,122.8 671.2,117.2 672.7,104.8 674.0,93.6 674.9,89.9 676.2,92.4 677.4,107.3 678.7,119.7 679.9,123.5 681.2,117.2 682.4,101.1 683.4,86.2 684.3,83.7 685.5,89.9 686.4,107.3 687.6,124.7 688.9,129.7 690.1,128.4 691.4,132.2 692.6,135.3 693.8,141.5 695.1,138.4 696.7,133.4 698.3,130.9 699.8,122.2 701.3,107.3 702.7,96.1 704.2,101.1 705.0,113.5 706.0,132.2 707.0,147.1 708.3,154.3 710.0,151.2 712.0,152.8 714.3,154.0 717.4,154.4" fill="none" stroke="#111" stroke-width="1.3" stroke-linejoin="round"/>
<polyline points="721.7,160.9 723.6,158.2 725.5,155.1 726.7,150.5 728.2,147.4 729.8,151.2 730.5,154.3 732.5,151.6 734.4,150.1 736.7,150.5 738.7,152.4 739.8,154.3" fill="none" stroke="#111" stroke-width="1.3" stroke-linejoin="round"/>
<polygon points="417.2,241.2 417.2,247.4 418.5,249.9 419.5,254.2 420.5,256.7 421.3,254.9 422.6,259.8 424.1,264.8 425.1,256.1 426.3,248.4 427.2,249.3 428.2,261.1 429.4,272.3 430.6,271.6 431.6,265.4 432.9,263.8 434.1,265.4 435.4,263.8 436.6,267.3 438.1,276.6 439.3,274.8 440.6,269.2 441.8,268.5 443.1,273.5 444.6,285.9 445.8,282.2 447.1,277.2 448.3,279.7 449.5,287.2 451.2,290.9 453.0,294.6 454.9,297.1 456.8,297.8 458.2,303.3 459.9,308.3 461.7,310.2 463.2,311.4 464.8,313.0 466.1,307.1 467.6,297.8 468.9,300.9 470.2,307.7 471.7,309.6 473.5,308.3 475.4,309.6 477.3,307.7 479.1,305.2 481.0,301.5 482.9,299.6 484.1,294.6 485.3,293.4 486.6,290.9 488.1,292.2 489.7,289.4 491.6,290.9 493.4,290.3 495.0,291.5 496.5,293.4 498.1,288.4 500.0,284.7 501.8,283.7 503.7,284.7 505.6,283.5 507.2,279.7 508.4,276.0 509.9,272.3 511.4,276.0 512.7,284.7 513.9,294.6 515.5,297.8 517.1,295.9 518.9,299.0 520.5,303.3 522.3,308.3 524.2,310.8 525.8,305.2 527.6,296.5 529.6,293.6 531.3,295.3 532.9,298.1 534.8,292.2 536.6,288.4 537.9,294.6 539.1,303.3 540.4,307.7 541.6,297.8 543.2,294.6 544.7,300.9 546.6,304.6 548.5,307.7 550.3,310.2 552.2,307.7 554.0,301.5 555.9,294.6 557.8,288.4 559.6,284.1 561.5,286.6 563.4,290.9 564.9,290.3 566.5,290.9 568.1,293.4 569.6,285.9 571.1,281.0 572.7,279.5 574.6,278.5 576.1,274.8 577.7,266.1 578.9,266.7 580.3,273.5 581.5,276.0 583.1,268.5 584.7,264.2 586.2,259.2 587.7,263.6 589.0,272.3 590.2,284.7 591.4,297.1 592.7,304.6 594.3,308.3 595.5,308.9 597.2,307.7 598.6,308.9 600.1,310.8 601.4,312.0 603.0,310.2 604.2,304.6 605.5,297.1 607.1,287.8 608.8,287.2 610.1,284.7 611.7,272.3 613.3,262.9 614.8,259.8 616.3,255.5 617.9,258.0 619.5,264.8 621.3,273.5 622.9,283.5 624.5,297.1 626.0,307.7 627.2,305.8 628.7,292.2 630.3,276.0 632.0,264.8 633.7,260.5 635.3,258.8 636.9,254.2 638.2,258.6 639.4,259.8 640.9,266.7 642.2,266.1 643.7,273.5 645.3,276.0 647.1,278.5 648.6,283.5 650.2,293.4 651.9,295.3 653.3,292.8 654.6,282.2 656.5,277.9 658.1,273.5 660.2,266.1 661.4,261.7 663.0,269.8 664.5,272.9 666.2,267.5 667.7,266.1 669.4,271.0 671.0,279.7 672.5,288.4 674.0,299.6 675.2,300.9 676.8,289.7 678.4,277.2 680.2,273.5 681.8,279.7 683.0,294.6 683.9,304.6 685.1,293.4 686.8,277.2 688.6,269.8 690.5,267.3 692.1,266.7 693.8,269.8 695.5,262.3 697.1,254.9 698.3,252.4 699.6,258.6 701.1,271.0 702.5,284.7 703.8,296.5 705.0,285.9 706.6,269.8 708.3,258.6 710.0,254.2 711.6,247.4 713.5,246.2 715.3,247.4 717.2,248.0 719.1,246.8 720.7,244.3 722.4,241.8 724.1,245.5 725.7,243.7 727.2,246.2 729.0,242.4 730.9,243.4 732.8,246.8 734.0,253.0 735.2,256.7 736.5,253.0 738.3,247.4 740.2,242.4 741.8,244.3 743.3,242.4 744.6,243.7 746.1,241.2 747.0,243.1 748.0,248.6 749.3,257.3 749.3,241.2" fill="#c6d8fd"/>
<polyline points="417.2,247.4 418.5,249.9 419.5,254.2 420.5,256.7 421.3,254.9 422.6,259.8 424.1,264.8 425.1,256.1 426.3,248.4 427.2,249.3 428.2,261.1 429.4,272.3 430.6,271.6 431.6,265.4 432.9,263.8 434.1,265.4 435.4,263.8 436.6,267.3 438.1,276.6 439.3,274.8 440.6,269.2 441.8,268.5 443.1,273.5 444.6,285.9 445.8,282.2 447.1,277.2 448.3,279.7 449.5,287.2 451.2,290.9 453.0,294.6 454.9,297.1 456.8,297.8 458.2,303.3 459.9,308.3 461.7,310.2 463.2,311.4 464.8,313.0 466.1,307.1 467.6,297.8 468.9,300.9 470.2,307.7 471.7,309.6 473.5,308.3 475.4,309.6 477.3,307.7 479.1,305.2 481.0,301.5 482.9,299.6 484.1,294.6 485.3,293.4 486.6,290.9 488.1,292.2 489.7,289.4 491.6,290.9 493.4,290.3 495.0,291.5 496.5,293.4 498.1,288.4 500.0,284.7 501.8,283.7 503.7,284.7 505.6,283.5 507.2,279.7 508.4,276.0 509.9,272.3 511.4,276.0 512.7,284.7 513.9,294.6 515.5,297.8 517.1,295.9 518.9,299.0 520.5,303.3 522.3,308.3 524.2,310.8 525.8,305.2 527.6,296.5 529.6,293.6 531.3,295.3 532.9,298.1 534.8,292.2 536.6,288.4 537.9,294.6 539.1,303.3 540.4,307.7 541.6,297.8 543.2,294.6 544.7,300.9 546.6,304.6 548.5,307.7 550.3,310.2 552.2,307.7 554.0,301.5 555.9,294.6 557.8,288.4 559.6,284.1 561.5,286.6 563.4,290.9 564.9,290.3 566.5,290.9 568.1,293.4 569.6,285.9 571.1,281.0 572.7,279.5 574.6,278.5 576.1,274.8 577.7,266.1 578.9,266.7 580.3,273.5 581.5,276.0 583.1,268.5 584.7,264.2 586.2,259.2 587.7,263.6 589.0,272.3 590.2,284.7 591.4,297.1 592.7,304.6 594.3,308.3 595.5,308.9 597.2,307.7 598.6,308.9 600.1,310.8 601.4,312.0 603.0,310.2 604.2,304.6 605.5,297.1 607.1,287.8 608.8,287.2 610.1,284.7 611.7,272.3 613.3,262.9 614.8,259.8 616.3,255.5 617.9,258.0 619.5,264.8 621.3,273.5 622.9,283.5 624.5,297.1 626.0,307.7 627.2,305.8 628.7,292.2 630.3,276.0 632.0,264.8 633.7,260.5 635.3,258.8 636.9,254.2 638.2,258.6 639.4,259.8 640.9,266.7 642.2,266.1 643.7,273.5 645.3,276.0 647.1,278.5 648.6,283.5 650.2,293.4 651.9,295.3 653.3,292.8 654.6,282.2 656.5,277.9 658.1,273.5 660.2,266.1 661.4,261.7 663.0,269.8 664.5,272.9 666.2,267.5 667.7,266.1 669.4,271.0 671.0,279.7 672.5,288.4 674.0,299.6 675.2,300.9 676.8,289.7 678.4,277.2 680.2,273.5 681.8,279.7 683.0,294.6 683.9,304.6 685.1,293.4 686.8,277.2 688.6,269.8 690.5,267.3 692.1,266.7 693.8,269.8 695.5,262.3 697.1,254.9 698.3,252.4 699.6,258.6 701.1,271.0 702.5,284.7 703.8,296.5 705.0,285.9 706.6,269.8 708.3,258.6 710.0,254.2 711.6,247.4 713.5,246.2 715.3,247.4 717.2,248.0 719.1,246.8 720.7,244.3 722.4,241.8 724.1,245.5 725.7,243.7 727.2,246.2 729.0,242.4 730.9,243.4 732.8,246.8 734.0,253.0 735.2,256.7 736.5,253.0 738.3,247.4 740.2,242.4 741.8,244.3 743.3,242.4 744.6,243.7 746.1,240.6 747.0,243.1 748.0,248.6 749.3,257.3" fill="none" stroke="#2233ff" stroke-width="1.4" stroke-linejoin="round"/>
<polygon points="417.0,476.0 417.0,487.4 418.2,483.0 419.7,484.9 421.3,483.0 422.9,485.5 424.4,489.9 425.9,486.8 427.2,488.6 428.8,494.2 430.6,498.6 432.1,499.8 433.8,496.1 435.6,492.3 437.1,493.0 438.4,495.5 440.0,496.7 441.6,502.3 443.1,501.1 444.6,501.7 446.2,504.8 448.1,507.3 449.5,512.2 451.2,516.0 452.8,516.6 454.5,519.7 456.1,523.4 457.7,527.8 459.0,532.8 460.5,539.6 462.0,542.7 463.6,540.8 465.2,539.0 466.7,541.5 468.2,544.6 469.8,546.4 471.7,547.7 473.2,548.9 474.8,550.2 476.4,547.0 477.6,545.2 479.1,548.0 480.6,550.2 482.2,548.0 483.9,545.8 485.6,545.2 487.2,545.2 488.8,543.3 490.3,538.3 491.8,532.8 493.4,530.9 495.0,529.0 496.5,528.6 498.1,530.3 500.0,533.4 501.5,530.3 503.1,530.9 504.7,532.8 506.4,529.6 508.1,530.9 509.7,536.5 511.2,541.5 512.7,544.3 514.3,542.1 515.9,535.9 517.4,530.3 519.2,525.9 521.1,522.2 522.6,518.5 524.2,519.7 525.8,520.9 527.3,519.5 528.8,522.2 530.1,524.4 531.7,523.4 533.3,523.2 534.8,520.3 536.0,519.7 537.3,527.2 538.5,538.3 539.8,541.5 541.0,534.6 542.2,529.6 543.7,526.9 545.3,528.4 547.0,530.9 548.7,531.5 550.7,532.1 552.4,534.6 554.4,539.6 556.2,543.9 557.8,547.3 559.4,544.6 561.1,539.6 562.8,535.2 564.6,530.9 566.5,527.8 568.6,524.7 570.2,522.8 572.1,524.0 573.6,520.3 575.2,517.2 577.0,518.5 578.9,516.6 580.3,515.0 581.5,514.1 583.1,508.5 584.7,505.4 586.2,503.5 588.1,503.3 589.7,509.8 591.2,516.6 592.7,515.3 594.3,516.0 595.9,520.9 597.7,528.4 599.3,532.1 601.1,531.5 602.6,533.4 604.2,539.6 605.9,545.2 607.1,547.0 608.6,535.9 610.5,519.7 612.1,519.7 613.8,522.4 615.4,517.2 617.0,517.2 618.5,525.9 619.8,532.1 621.3,520.9 622.5,512.2 623.8,509.1 625.4,511.0 627.2,514.5 629.1,513.5 630.3,514.1 631.2,509.8 632.8,512.9 634.7,511.6 636.6,512.9 638.2,519.7 639.7,530.9 641.2,540.8 642.4,543.3 644.0,535.9 645.6,523.4 647.1,508.5 648.6,500.8 649.9,501.1 651.5,507.3 653.3,506.6 655.2,501.1 657.1,499.2 658.9,494.8 660.8,491.7 662.3,493.0 663.9,497.3 665.2,499.8 666.5,498.3 668.1,497.6 669.7,501.1 671.2,506.6 672.7,509.1 674.3,508.5 675.9,509.1 677.4,507.9 679.3,507.9 680.5,512.2 681.8,523.4 683.0,535.9 683.9,541.5 684.9,535.9 686.1,519.7 687.4,506.0 688.9,501.1 690.5,497.3 692.1,496.1 693.6,497.9 695.1,491.7 696.3,489.2 697.6,488.6 698.8,496.1 700.1,509.8 701.3,520.9 702.3,525.3 703.5,519.7 705.0,506.0 706.6,489.9 708.3,481.2 709.8,479.9 711.2,481.2 712.9,478.7 714.7,476.8 716.2,481.2 717.2,482.4 719.1,481.2 720.3,477.4 721.9,476.2 723.7,476.8 725.3,476.2 727.2,479.3 729.0,482.4 730.9,483.0 732.8,479.3 735.2,476.8 737.1,478.7 739.0,483.6 740.8,482.4 742.7,481.2 744.6,481.8 746.4,483.0 748.3,482.4 750.2,484.3 751.8,486.8 751.8,476.0" fill="#feb1d7"/>
<polygon points="414.2,476.0 414.2,476.0 414.7,459.6 416.0,459.0 417.2,464.6 418.5,467.7 419.7,463.3 421.0,465.2 422.2,464.6 423.4,467.1 424.7,462.7 426.3,460.2 427.5,457.8 429.4,454.0 430.9,457.1 432.1,459.0 433.4,457.8 434.6,462.1 436.2,457.8 437.5,456.5 438.7,459.6 440.0,455.9 441.2,465.2 442.5,459.0 443.7,449.7 444.9,447.2 446.8,447.8 448.3,445.3 449.9,446.6 451.5,445.3 453.0,447.4 454.5,444.7 455.8,441.0 457.0,436.0 458.2,429.8 459.9,422.3 461.1,416.1 462.3,413.0 463.6,411.8 465.2,414.2 466.7,415.5 468.2,414.9 469.4,410.5 470.7,404.3 471.9,401.8 473.2,401.8 474.8,404.3 476.6,406.2 478.1,408.6 479.8,409.3 481.0,408.6 482.6,411.8 484.1,414.9 486.0,418.6 487.8,422.9 489.7,427.3 491.6,432.3 493.4,433.5 495.0,432.9 496.5,434.4 498.1,438.5 500.0,437.2 501.5,441.0 502.7,444.1 504.3,439.1 506.2,436.0 508.1,434.8 509.9,432.9 511.4,427.3 512.7,419.8 513.6,417.3 514.9,421.1 516.1,429.8 517.4,434.1 519.2,432.9 520.5,431.0 521.7,433.5 523.6,436.6 525.5,436.0 527.6,435.7 529.6,435.4 531.3,431.6 532.9,430.4 534.5,432.9 536.0,434.1 537.3,429.8 538.5,419.8 539.8,418.8 541.0,424.2 542.2,432.9 543.5,436.0 544.7,432.9 546.0,427.9 547.5,426.1 548.7,428.5 550.3,431.6 551.9,427.3 553.7,421.7 555.7,418.0 557.2,413.6 558.6,406.8 560.3,401.8 562.1,400.2 563.6,402.4 564.9,408.0 566.1,414.9 567.7,422.3 569.3,427.9 571.1,430.4 572.7,432.9 574.6,435.4 576.1,437.2 577.7,434.1 579.3,435.4 580.8,442.2 582.3,447.2 584.2,449.5 586.2,454.0 587.7,456.1 589.3,455.9 591.2,450.9 593.1,447.2 594.9,444.5 596.8,442.2 598.4,437.2 599.6,427.3 600.9,421.7 602.1,424.8 603.6,429.2 604.9,424.8 606.4,416.1 607.6,415.5 608.8,420.5 610.1,429.8 611.3,439.7 612.6,444.7 614.2,444.7 615.8,442.2 617.3,440.3 618.8,436.0 620.0,432.9 621.3,436.0 622.5,443.5 623.8,449.1 625.4,449.9 627.2,450.5 628.7,451.8 630.3,449.9 632.2,447.2 634.1,444.7 635.9,442.8 637.8,439.7 639.0,433.5 640.3,426.1 641.5,419.8 642.8,416.7 644.0,418.6 645.3,426.1 646.5,433.5 647.8,442.2 649.4,446.9 651.1,444.7 653.1,444.7 655.2,444.7 657.1,441.0 658.9,442.8 660.8,447.2 663.0,449.7 665.0,450.9 666.9,449.4 668.7,447.8 670.6,445.3 672.2,440.3 673.7,438.5 675.2,442.2 676.8,444.7 678.7,444.7 680.5,444.7 682.2,442.2 683.4,421.1 684.6,403.7 685.9,408.6 687.1,424.8 688.4,442.2 689.6,451.5 691.1,455.9 692.6,459.0 694.6,456.5 696.3,457.8 697.9,460.2 699.6,450.9 701.1,438.5 702.5,428.5 703.8,427.3 705.0,432.3 706.3,442.2 707.5,453.4 709.1,464.6 711.0,466.5 712.9,468.9 714.7,471.4 716.6,475.2 718.5,473.3 720.3,467.7 721.6,466.5 723.4,467.7 725.3,469.6 726.9,472.7 728.4,475.8 730.3,475.8 732.1,472.7 734.0,472.0 735.9,471.4 737.7,472.0 739.6,471.4 741.5,473.3 743.3,472.7 745.2,471.4 747.0,471.8 748.5,470.8 750.2,469.3 751.4,470.6 752.0,476.0 752.0,476.0" fill="#c2cbca"/>
<polyline points="417.0,487.4 418.2,483.0 419.7,484.9 421.3,483.0 422.9,485.5 424.4,489.9 425.9,486.8 427.2,488.6 428.8,494.2 430.6,498.6 432.1,499.8 433.8,496.1 435.6,492.3 437.1,493.0 438.4,495.5 440.0,496.7 441.6,502.3 443.1,501.1 444.6,501.7 446.2,504.8 448.1,507.3 449.5,512.2 451.2,516.0 452.8,516.6 454.5,519.7 456.1,523.4 457.7,527.8 459.0,532.8 460.5,539.6 462.0,542.7 463.6,540.8 465.2,539.0 466.7,541.5 468.2,544.6 469.8,546.4 471.7,547.7 473.2,548.9 474.8,550.2 476.4,547.0 477.6,545.2 479.1,548.0 480.6,550.2 482.2,548.0 483.9,545.8 485.6,545.2 487.2,545.2 488.8,543.3 490.3,538.3 491.8,532.8 493.4,530.9 495.0,529.0 496.5,528.6 498.1,530.3 500.0,533.4 501.5,530.3 503.1,530.9 504.7,532.8 506.4,529.6 508.1,530.9 509.7,536.5 511.2,541.5 512.7,544.3 514.3,542.1 515.9,535.9 517.4,530.3 519.2,525.9 521.1,522.2 522.6,518.5 524.2,519.7 525.8,520.9 527.3,519.5 528.8,522.2 530.1,524.4 531.7,523.4 533.3,523.2 534.8,520.3 536.0,519.7 537.3,527.2 538.5,538.3 539.8,541.5 541.0,534.6 542.2,529.6 543.7,526.9 545.3,528.4 547.0,530.9 548.7,531.5 550.7,532.1 552.4,534.6 554.4,539.6 556.2,543.9 557.8,547.3 559.4,544.6 561.1,539.6 562.8,535.2 564.6,530.9 566.5,527.8 568.6,524.7 570.2,522.8 572.1,524.0 573.6,520.3 575.2,517.2 577.0,518.5 578.9,516.6 580.3,515.0 581.5,514.1 583.1,508.5 584.7,505.4 586.2,503.5 588.1,503.3 589.7,509.8 591.2,516.6 592.7,515.3 594.3,516.0 595.9,520.9 597.7,528.4 599.3,532.1 601.1,531.5 602.6,533.4 604.2,539.6 605.9,545.2 607.1,547.0 608.6,535.9 610.5,519.7 612.1,519.7 613.8,522.4 615.4,517.2 617.0,517.2 618.5,525.9 619.8,532.1 621.3,520.9 622.5,512.2 623.8,509.1 625.4,511.0 627.2,514.5 629.1,513.5 630.3,514.1 631.2,509.8 632.8,512.9 634.7,511.6 636.6,512.9 638.2,519.7 639.7,530.9 641.2,540.8 642.4,543.3 644.0,535.9 645.6,523.4 647.1,508.5 648.6,500.8 649.9,501.1 651.5,507.3 653.3,506.6 655.2,501.1 657.1,499.2 658.9,494.8 660.8,491.7 662.3,493.0 663.9,497.3 665.2,499.8 666.5,498.3 668.1,497.6 669.7,501.1 671.2,506.6 672.7,509.1 674.3,508.5 675.9,509.1 677.4,507.9 679.3,507.9 680.5,512.2 681.8,523.4 683.0,535.9 683.9,541.5 684.9,535.9 686.1,519.7 687.4,506.0 688.9,501.1 690.5,497.3 692.1,496.1 693.6,497.9 695.1,491.7 696.3,489.2 697.6,488.6 698.8,496.1 700.1,509.8 701.3,520.9 702.3,525.3 703.5,519.7 705.0,506.0 706.6,489.9 708.3,481.2 709.8,479.9 711.2,481.2 712.9,478.7 714.7,476.8 716.2,481.2 717.2,482.4 719.1,481.2 720.3,477.4 721.9,476.2 723.7,476.8 725.3,476.2 727.2,479.3 729.0,482.4 730.9,483.0 732.8,479.3 735.2,476.8 737.1,478.7 739.0,483.6 740.8,482.4 742.7,481.2 744.6,481.8 746.4,483.0 748.3,482.4 750.2,484.3 751.8,486.8" fill="none" stroke="#ff1c1c" stroke-width="1.3" stroke-linejoin="round"/>
<clipPath id="cdb2"><rect x="400" y="380" width="376" height="96.8"/></clipPath>
<g clip-path="url(#cdb2)">
<polyline points="414.7,459.6 416.0,459.0 417.2,464.6 418.5,467.7 419.7,463.3 421.0,465.2 422.2,464.6 423.4,467.1 424.7,462.7 426.3,460.2 427.5,457.8 429.4,454.0 430.9,457.1 432.1,459.0 433.4,457.8 434.6,462.1 436.2,457.8 437.5,456.5 438.7,459.6 440.0,455.9 441.2,465.2 442.5,459.0 443.7,449.7 444.9,447.2 446.8,447.8 448.3,445.3 449.9,446.6 451.5,445.3 453.0,447.4 454.5,444.7 455.8,441.0 457.0,436.0 458.2,429.8 459.9,422.3 461.1,416.1 462.3,413.0 463.6,411.8 465.2,414.2 466.7,415.5 468.2,414.9 469.4,410.5 470.7,404.3 471.9,401.8 473.2,401.8 474.8,404.3 476.6,406.2 478.1,408.6 479.8,409.3 481.0,408.6 482.6,411.8 484.1,414.9 486.0,418.6 487.8,422.9 489.7,427.3 491.6,432.3 493.4,433.5 495.0,432.9 496.5,434.4 498.1,438.5 500.0,437.2 501.5,441.0 502.7,444.1 504.3,439.1 506.2,436.0 508.1,434.8 509.9,432.9 511.4,427.3 512.7,419.8 513.6,417.3 514.9,421.1 516.1,429.8 517.4,434.1 519.2,432.9 520.5,431.0 521.7,433.5 523.6,436.6 525.5,436.0 527.6,435.7 529.6,435.4 531.3,431.6 532.9,430.4 534.5,432.9 536.0,434.1 537.3,429.8 538.5,419.8 539.8,418.8 541.0,424.2 542.2,432.9 543.5,436.0 544.7,432.9 546.0,427.9 547.5,426.1 548.7,428.5 550.3,431.6 551.9,427.3 553.7,421.7 555.7,418.0 557.2,413.6 558.6,406.8 560.3,401.8 562.1,400.2 563.6,402.4 564.9,408.0 566.1,414.9 567.7,422.3 569.3,427.9 571.1,430.4 572.7,432.9 574.6,435.4 576.1,437.2 577.7,434.1 579.3,435.4 580.8,442.2 582.3,447.2 584.2,449.5 586.2,454.0 587.7,456.1 589.3,455.9 591.2,450.9 593.1,447.2 594.9,444.5 596.8,442.2 598.4,437.2 599.6,427.3 600.9,421.7 602.1,424.8 603.6,429.2 604.9,424.8 606.4,416.1 607.6,415.5 608.8,420.5 610.1,429.8 611.3,439.7 612.6,444.7 614.2,444.7 615.8,442.2 617.3,440.3 618.8,436.0 620.0,432.9 621.3,436.0 622.5,443.5 623.8,449.1 625.4,449.9 627.2,450.5 628.7,451.8 630.3,449.9 632.2,447.2 634.1,444.7 635.9,442.8 637.8,439.7 639.0,433.5 640.3,426.1 641.5,419.8 642.8,416.7 644.0,418.6 645.3,426.1 646.5,433.5 647.8,442.2 649.4,446.9 651.1,444.7 653.1,444.7 655.2,444.7 657.1,441.0 658.9,442.8 660.8,447.2 663.0,449.7 665.0,450.9 666.9,449.4 668.7,447.8 670.6,445.3 672.2,440.3 673.7,438.5 675.2,442.2 676.8,444.7 678.7,444.7 680.5,444.7 682.2,442.2 683.4,421.1 684.6,403.7 685.9,408.6 687.1,424.8 688.4,442.2 689.6,451.5 691.1,455.9 692.6,459.0 694.6,456.5 696.3,457.8 697.9,460.2 699.6,450.9 701.1,438.5 702.5,428.5 703.8,427.3 705.0,432.3 706.3,442.2 707.5,453.4 709.1,464.6 711.0,466.5 712.9,468.9 714.7,471.4 716.6,475.2 718.5,473.3 720.3,467.7 721.6,466.5 723.4,467.7 725.3,469.6 726.9,472.7 728.4,475.8 730.3,475.8 732.1,472.7 734.0,472.0 735.9,471.4 737.7,472.0 739.6,471.4 741.5,473.3 743.3,472.7 745.2,471.4 747.0,471.8 748.5,470.8 750.2,469.3 751.4,470.6" fill="none" stroke="#111" stroke-width="1.3" stroke-linejoin="round"/>
</g>
<polygon points="417.0,565.8 417.0,577.4 418.2,579.9 419.2,578.0 420.5,579.2 421.7,585.5 422.9,579.2 424.2,577.4 425.4,583.0 426.7,584.8 427.9,574.9 429.2,568.7 430.4,573.0 431.3,581.7 432.5,579.9 433.8,575.5 435.0,579.2 436.2,573.0 437.5,581.1 438.7,586.7 440.3,587.6 441.8,591.1 443.3,596.0 444.6,603.5 445.8,608.5 447.1,597.3 448.3,588.0 449.5,589.2 450.8,591.7 452.0,590.4 453.3,598.5 454.9,606.6 456.5,607.8 458.0,610.9 459.9,617.8 461.5,624.0 463.0,617.2 464.2,617.8 465.7,622.1 467.3,627.1 468.9,627.7 470.4,627.1 471.7,632.1 473.2,640.2 474.8,635.2 476.4,630.2 477.9,632.1 479.8,631.5 481.4,634.6 482.9,629.6 484.4,627.1 486.0,627.1 487.6,622.8 489.1,622.8 490.6,624.0 492.2,622.1 493.8,619.0 495.3,616.5 496.8,614.0 498.2,611.6 499.7,612.8 501.2,608.5 502.7,599.1 504.0,602.9 505.6,619.6 507.2,620.9 508.7,622.8 510.2,625.9 511.8,627.7 513.4,629.6 514.6,632.7 515.9,625.9 517.4,619.6 519.2,623.4 520.5,617.2 521.7,608.5 523.3,604.1 524.8,606.0 526.3,604.5 528.3,605.3 530.1,609.1 531.7,611.6 533.3,611.0 534.8,609.7 536.3,614.7 537.9,622.1 539.5,628.3 541.0,630.6 542.5,624.6 544.1,617.2 545.7,614.7 547.2,615.9 549.1,612.8 550.7,614.0 552.4,617.2 554.4,622.1 556.2,627.1 557.8,630.8 559.4,630.8 560.9,622.1 562.8,618.4 564.6,613.4 566.5,609.1 568.3,607.2 569.8,606.6 571.5,604.7 572.7,608.5 574.6,608.5 576.1,612.2 577.7,615.9 579.3,611.0 580.5,607.0 581.2,604.1 582.7,601.6 584.4,595.4 586.0,592.9 587.2,592.0 588.5,594.8 589.7,593.5 591.2,597.3 592.7,598.5 594.3,601.0 595.5,603.5 596.8,609.7 598.4,619.6 600.1,620.3 601.8,614.7 603.4,620.9 604.6,628.3 606.1,634.3 607.6,630.8 609.2,622.1 610.8,614.7 612.6,611.6 614.2,613.4 616.1,615.3 617.3,607.0 618.8,607.8 620.0,609.7 621.3,617.2 622.9,607.2 624.8,601.6 626.6,599.8 628.5,602.0 630.3,604.7 632.2,599.1 634.1,594.5 635.9,595.8 637.4,596.6 638.7,603.5 639.9,612.2 641.5,622.1 642.8,625.9 644.4,620.9 645.9,607.2 647.4,592.3 649.0,584.8 650.6,588.6 652.1,589.8 653.6,596.6 655.2,596.0 656.8,589.8 658.6,582.6 660.2,591.1 661.8,593.5 663.0,594.8 664.5,588.8 665.7,585.5 666.5,584.2 668.1,583.6 669.7,586.1 671.0,591.1 672.5,589.8 674.0,591.7 675.6,592.3 676.8,594.2 678.4,589.8 679.9,591.1 681.2,599.8 682.4,610.9 683.6,622.8 684.9,619.6 686.1,607.2 687.4,591.1 688.9,583.6 690.5,586.7 692.1,587.9 693.6,589.8 695.1,588.6 696.7,586.1 697.9,581.1 699.2,586.1 700.4,597.3 702.0,609.7 703.3,615.3 704.5,609.7 706.0,593.5 707.5,582.3 709.1,575.5 710.7,571.2 712.2,567.4 713.7,568.7 715.0,574.3 716.2,579.2 717.8,571.8 719.7,565.8 721.2,566.8 722.4,573.6 723.7,578.0 725.3,579.9 726.5,579.9 727.8,574.3 729.0,568.7 730.6,565.8 732.1,567.4 733.6,571.2 735.2,568.7 736.9,570.5 738.3,569.7 739.8,570.5 741.5,568.7 743.1,570.5 744.6,568.1 746.1,565.8 747.3,565.8 748.5,565.8 748.5,565.8" fill="#c8c8ff"/>
<polyline points="417.0,577.4 418.2,579.9 419.2,578.0 420.5,579.2 421.7,585.5 422.9,579.2 424.2,577.4 425.4,583.0 426.7,584.8 427.9,574.9 429.2,568.7 430.4,573.0 431.3,581.7 432.5,579.9 433.8,575.5 435.0,579.2 436.2,573.0 437.5,581.1 438.7,586.7 440.3,587.6 441.8,591.1 443.3,596.0 444.6,603.5 445.8,608.5 447.1,597.3 448.3,588.0 449.5,589.2 450.8,591.7 452.0,590.4 453.3,598.5 454.9,606.6 456.5,607.8 458.0,610.9 459.9,617.8 461.5,624.0 463.0,617.2 464.2,617.8 465.7,622.1 467.3,627.1 468.9,627.7 470.4,627.1 471.7,632.1 473.2,640.2 474.8,635.2 476.4,630.2 477.9,632.1 479.8,631.5 481.4,634.6 482.9,629.6 484.4,627.1 486.0,627.1 487.6,622.8 489.1,622.8 490.6,624.0 492.2,622.1 493.8,619.0 495.3,616.5 496.8,614.0 498.2,611.6 499.7,612.8 501.2,608.5 502.7,599.1 504.0,602.9 505.6,619.6 507.2,620.9 508.7,622.8 510.2,625.9 511.8,627.7 513.4,629.6 514.6,632.7 515.9,625.9 517.4,619.6 519.2,623.4 520.5,617.2 521.7,608.5 523.3,604.1 524.8,606.0 526.3,604.5 528.3,605.3 530.1,609.1 531.7,611.6 533.3,611.0 534.8,609.7 536.3,614.7 537.9,622.1 539.5,628.3 541.0,630.6 542.5,624.6 544.1,617.2 545.7,614.7 547.2,615.9 549.1,612.8 550.7,614.0 552.4,617.2 554.4,622.1 556.2,627.1 557.8,630.8 559.4,630.8 560.9,622.1 562.8,618.4 564.6,613.4 566.5,609.1 568.3,607.2 569.8,606.6 571.5,604.7 572.7,608.5 574.6,608.5 576.1,612.2 577.7,615.9 579.3,611.0 580.5,607.0 581.2,604.1 582.7,601.6 584.4,595.4 586.0,592.9 587.2,592.0 588.5,594.8 589.7,593.5 591.2,597.3 592.7,598.5 594.3,601.0 595.5,603.5 596.8,609.7 598.4,619.6 600.1,620.3 601.8,614.7 603.4,620.9 604.6,628.3 606.1,634.3 607.6,630.8 609.2,622.1 610.8,614.7 612.6,611.6 614.2,613.4 616.1,615.3 617.3,607.0 618.8,607.8 620.0,609.7 621.3,617.2 622.9,607.2 624.8,601.6 626.6,599.8 628.5,602.0 630.3,604.7 632.2,599.1 634.1,594.5 635.9,595.8 637.4,596.6 638.7,603.5 639.9,612.2 641.5,622.1 642.8,625.9 644.4,620.9 645.9,607.2 647.4,592.3 649.0,584.8 650.6,588.6 652.1,589.8 653.6,596.6 655.2,596.0 656.8,589.8 658.6,582.6 660.2,591.1 661.8,593.5 663.0,594.8 664.5,588.8 665.7,585.5 666.5,584.2 668.1,583.6 669.7,586.1 671.0,591.1 672.5,589.8 674.0,591.7 675.6,592.3 676.8,594.2 678.4,589.8 679.9,591.1 681.2,599.8 682.4,610.9 683.6,622.8 684.9,619.6 686.1,607.2 687.4,591.1 688.9,583.6 690.5,586.7 692.1,587.9 693.6,589.8 695.1,588.6 696.7,586.1 697.9,581.1 699.2,586.1 700.4,597.3 702.0,609.7 703.3,615.3 704.5,609.7 706.0,593.5 707.5,582.3 709.1,575.5 710.7,571.2 712.2,567.4 713.7,568.7 715.0,574.3 716.2,579.2 717.8,571.8 719.7,565.6 721.2,566.8 722.4,573.6 723.7,578.0 725.3,579.9 726.5,579.9 727.8,574.3 729.0,568.7 730.6,564.3 732.1,567.4 733.6,571.2 735.2,568.7 736.9,570.5 738.3,569.7 739.8,570.5 741.5,568.7 743.1,570.5 744.6,568.1 746.1,565.6 747.3,561.8 748.5,558.7" fill="none" stroke="#2233ff" stroke-width="1.4" stroke-linejoin="round"/>
<text x="444" y="150" font-family="Liberation Sans, sans-serif" font-size="17.5" textLength="153" lengthAdjust="spacingAndGlyphs">Database spectrum</text>
<text x="444.3" y="173" font-family="Liberation Sans, sans-serif" font-size="17.5" textLength="47.3" lengthAdjust="spacingAndGlyphs">peak I</text>
<text x="440.6" y="259.2" font-family="Liberation Sans, sans-serif" font-size="17.5" textLength="47.3" lengthAdjust="spacingAndGlyphs">peak I</text>
<text x="443.6" y="471" font-family="Liberation Sans, sans-serif" font-size="17.5" textLength="153" lengthAdjust="spacingAndGlyphs">Database spectrum</text>
<text x="444.4" y="493.6" font-family="Liberation Sans, sans-serif" font-size="17.5" textLength="52.3" lengthAdjust="spacingAndGlyphs">peak II</text>
<text x="449.8" y="581.1" font-family="Liberation Sans, sans-serif" font-size="17.5" textLength="51.5" lengthAdjust="spacingAndGlyphs">peak II</text>
<polygon points="152.2,193.5 152.2,193.0 190.0,193.0 200.4,192.4 203.8,189.8 207.3,186.4 209.9,185.2 213.3,185.9 216.8,187.6 220.2,188.1 223.7,187.2 227.1,185.2 230.6,181.2 234.0,176.0 237.5,168.2 240.1,159.6 242.7,147.5 245.3,135.4 247.8,123.4 250.4,109.5 253.0,100.0 255.6,94.0 258.2,88.5 260.5,90.5 262.5,95.7 265.1,106.1 267.7,119.9 270.3,137.2 272.9,154.4 275.5,168.2 278.1,178.6 280.7,185.5 284.1,189.8 288.4,191.6 293.6,192.4 300.0,193.0 320.7,193.0 320.7,193.5" fill="#c2cbca"/>
<polyline points="152.2,193.0 190.0,193.0 200.4,192.4 203.8,189.8 207.3,186.4 209.9,185.2 213.3,185.9 216.8,187.6 220.2,188.1 223.7,187.2 227.1,185.2 230.6,181.2 234.0,176.0 237.5,168.2 240.1,159.6 242.7,147.5 245.3,135.4 247.8,123.4 250.4,109.5 253.0,100.0 255.6,94.0 258.2,88.5 260.5,90.5 262.5,95.7 265.1,106.1 267.7,119.9 270.3,137.2 272.9,154.4 275.5,168.2 278.1,178.6 280.7,185.5 284.1,189.8 288.4,191.6 293.6,192.4 300.0,193.0 320.7,193.0" fill="none" stroke="#222" stroke-width="1.2" stroke-linejoin="round"/>
<polygon points="152.2,418.2 152.2,416.8 170.0,416.5 185.0,416.1 191.9,415.4 196.2,414.0 198.8,408.8 201.4,393.3 203.1,372.5 204.9,348.4 206.6,327.6 208.3,315.5 210.0,311.2 211.8,315.5 213.5,327.6 215.2,348.4 217.0,369.1 218.7,386.4 221.3,398.4 223.9,405.4 226.5,410.5 229.6,413.6 231.6,412.6 233.7,407.1 236.0,399.3 238.5,394.1 240.3,391.9 242.3,396.7 244.6,401.9 246.8,400.2 249.2,396.7 252.4,394.1 255.0,395.9 257.5,400.2 260.1,403.6 262.7,407.9 265.3,411.4 269.6,414.3 274.8,415.4 285.0,416.1 295.0,416.3 300.0,415.9 304.0,416.3 320.0,416.6 320.0,418.2" fill="#c2cbca"/>
<polyline points="152.2,416.8 170.0,416.5 185.0,416.1 191.9,415.4 196.2,414.0 198.8,408.8 201.4,393.3 203.1,372.5 204.9,348.4 206.6,327.6 208.3,315.5 210.0,311.2 211.8,315.5 213.5,327.6 215.2,348.4 217.0,369.1 218.7,386.4 221.3,398.4 223.9,405.4 226.5,410.5 229.6,413.6 231.6,412.6 233.7,407.1 236.0,399.3 238.5,394.1 240.3,391.9 242.3,396.7 244.6,401.9 246.8,400.2 249.2,396.7 252.4,394.1 255.0,395.9 257.5,400.2 260.1,403.6 262.7,407.9 265.3,411.4 269.6,414.3 274.8,415.4 285.0,416.1 295.0,416.3 300.0,415.9 304.0,416.3 320.0,416.6" fill="none" stroke="#222" stroke-width="1.2" stroke-linejoin="round"/>
<polygon points="150.4,589.6 150.4,589.3 180.0,589.2 186.4,588.8 192.9,587.5 196.8,586.6 200.0,584.9 201.9,581.1 203.8,570.1 205.8,555.9 207.7,543.0 209.4,536.3 210.7,536.6 212.2,543.0 214.1,553.4 216.1,563.7 218.0,570.7 219.9,572.4 221.9,570.7 223.8,562.4 225.7,550.8 227.7,542.4 229.2,539.8 230.9,543.0 232.8,550.8 234.8,559.8 236.7,570.1 238.6,576.5 240.6,581.1 243.1,584.9 245.7,586.6 249.6,587.5 254.7,587.1 258.6,586.6 261.8,585.6 265.1,586.9 270.2,588.1 280.0,588.8 314.4,589.2 314.4,589.6" fill="#fdafd7"/>
<polyline points="150.4,589.3 180.0,589.2 186.4,588.8 192.9,587.5 196.8,586.6 200.0,584.9 201.9,581.1 203.8,570.1 205.8,555.9 207.7,543.0 209.4,536.3 210.7,536.6 212.2,543.0 214.1,553.4 216.1,563.7 218.0,570.7 219.9,572.4 221.9,570.7 223.8,562.4 225.7,550.8 227.7,542.4 229.2,539.8 230.9,543.0 232.8,550.8 234.8,559.8 236.7,570.1 238.6,576.5 240.6,581.1 243.1,584.9 245.7,586.6 249.6,587.5 254.7,587.1 258.6,586.6 261.8,585.6 265.1,586.9 270.2,588.1 280.0,588.8 314.4,589.2" fill="none" stroke="#ff1c1c" stroke-width="1.25" stroke-linejoin="round"/>
<polygon points="150.4,636.6 150.4,636.4 180.0,636.4 192.9,636.1 196.8,635.7 199.3,633.8 201.3,628.7 203.2,618.4 205.1,608.0 207.1,600.3 208.6,597.5 210.3,599.0 212.0,606.8 213.8,612.6 215.4,618.4 216.8,623.5 217.9,626.6 219.1,626.0 220.5,628.8 221.6,630.2 224.0,630.0 226.5,631.2 229.0,632.6 230.9,633.4 234.1,634.8 238.0,635.4 244.4,635.4 250.9,635.4 257.3,635.7 270.2,636.1 280.0,636.1 314.4,636.2 314.4,636.6" fill="#c6d6fa"/>
<polyline points="150.4,636.4 180.0,636.4 192.9,636.1 196.8,635.7 199.3,633.8 201.3,628.7 203.2,618.4 205.1,608.0 207.1,600.3 208.6,597.5 210.3,599.0 212.0,606.8 213.8,612.6 215.4,618.4 216.8,623.5 217.9,626.6 219.1,626.0 220.5,628.8 221.6,630.2 224.0,630.0 226.5,631.2 229.0,632.6 230.9,633.4 234.1,634.8 238.0,635.4 244.4,635.4 250.9,635.4 257.3,635.7 270.2,636.1 280.0,636.1 314.4,636.2" fill="none" stroke="#2233ff" stroke-width="1.3" stroke-linejoin="round"/>
<polygon points="150.4,664.4 150.4,664.1 180.0,664.1 192.9,663.7 200.6,663.2 205.8,662.4 209.6,662.4 214.8,662.8 218.0,662.2 220.6,658.3 223.2,651.9 225.7,646.7 227.7,644.1 229.6,645.4 231.5,649.3 233.5,655.1 236.1,658.3 239.3,660.9 243.1,662.8 248.3,663.5 253.5,662.8 257.3,661.5 261.2,661.1 265.1,662.2 270.2,663.5 280.0,663.7 314.4,663.9 314.4,664.4" fill="#c6d6fa"/>
<polyline points="150.4,664.1 180.0,664.1 192.9,663.7 200.6,663.2 205.8,662.4 209.6,662.4 214.8,662.8 218.0,662.2 220.6,658.3 223.2,651.9 225.7,646.7 227.7,644.1 229.6,645.4 231.5,649.3 233.5,655.1 236.1,658.3 239.3,660.9 243.1,662.8 248.3,663.5 253.5,662.8 257.3,661.5 261.2,661.1 265.1,662.2 270.2,663.5 280.0,663.7 314.4,663.9" fill="none" stroke="#2233ff" stroke-width="1.3" stroke-linejoin="round"/>
<path d="M209.6 299 L209.6 287.7 L207.0 289.6" fill="none" stroke="#111" stroke-width="1.6" stroke-linejoin="round"/>
<text x="235.1" y="388.6" font-family="Liberation Sans, sans-serif" font-size="17" textLength="8.6" lengthAdjust="spacingAndGlyphs">2</text>
<text x="252.2" y="390.6" font-family="Liberation Sans, sans-serif" font-size="17" textLength="8.6" lengthAdjust="spacingAndGlyphs">3</text>
<rect x="207.2" y="519.1" width="1.8" height="11.799999999999955" fill="#111"/>
<rect x="228.1" y="520.1" width="1.8" height="11.600000000000023" fill="#111"/>
<rect x="232.2" y="520.1" width="1.8" height="11.600000000000023" fill="#111"/>
<rect x="200.9" y="594.0" width="1.8" height="12.200000000000045" fill="#111"/>
<rect x="235.5" y="639.4" width="1.8" height="11.600000000000023" fill="#111"/>
<rect x="240.0" y="639.4" width="1.8" height="11.600000000000023" fill="#111"/>
<text x="318.0" y="584.4" font-family="Liberation Sans, sans-serif" font-size="15.6" text-anchor="end">from 1</text>
<text x="317.0" y="632.6" font-family="Liberation Sans, sans-serif" font-size="15.6" text-anchor="end">from 2</text>
<text x="317.5" y="660.6" font-family="Liberation Sans, sans-serif" font-size="15.6" text-anchor="end">from 3</text>
<line x1="741.2" y1="180.4" x2="759.9000000000001" y2="180.4" stroke="#555" stroke-width="1"/>
<line x1="741.2" y1="180.4" x2="713.5" y2="209.8" stroke="#555" stroke-width="1"/>
<circle cx="759.9000000000001" cy="180.4" r="5.5" fill="#2848ee" stroke="#555" stroke-width="0.6"/>
<circle cx="741.2" cy="180.4" r="5.5" fill="#fbef05" stroke="#555" stroke-width="0.8"/>
<rect x="722.5" y="189.0" width="10.5" height="10.3" fill="#2848ee" stroke="#555" stroke-width="0.6"/>
<circle cx="713.5" cy="209.8" r="5.5" fill="#fbef05" stroke="#555" stroke-width="0.8"/>
<text x="767.0" y="185.70000000000002" font-family="Liberation Sans, sans-serif" font-size="17.5">β</text>
<path d="M 766.83 198.97 A 11.1 11.1 0 1 1 762.27 191.81" fill="none" stroke="#2fcc1c" stroke-width="2.3"/>
<polygon points="750.00,200.50 751.60,199.10 755.10,203.30 761.80,195.70 768.80,191.00 766.00,194.30 759.50,202.20 755.30,207.70 753.50,206.80 750.20,202.20" fill="#2fcc1c" stroke="#2fcc1c" stroke-width="0.8" stroke-linejoin="round"/>
<line x1="741.2" y1="274.8" x2="759.9000000000001" y2="274.8" stroke="#555" stroke-width="1"/>
<line x1="741.2" y1="274.8" x2="713.5" y2="304.2" stroke="#555" stroke-width="1"/>
<circle cx="759.9000000000001" cy="274.8" r="5.5" fill="#2848ee" stroke="#555" stroke-width="0.6"/>
<circle cx="741.2" cy="274.8" r="5.5" fill="#fbef05" stroke="#555" stroke-width="0.8"/>
<rect x="722.5" y="283.40000000000003" width="10.5" height="10.3" fill="#2848ee" stroke="#555" stroke-width="0.6"/>
<circle cx="713.5" cy="304.2" r="5.5" fill="#fbef05" stroke="#555" stroke-width="0.8"/>
<text x="767.0" y="280.1" font-family="Liberation Sans, sans-serif" font-size="17.5">β</text>
<path d="M 766.83 293.37 A 11.1 11.1 0 1 1 762.27 286.21" fill="none" stroke="#2fcc1c" stroke-width="2.3"/>
<polygon points="750.00,294.90 751.60,293.50 755.10,297.70 761.80,290.10 768.80,285.40 766.00,288.70 759.50,296.60 755.30,302.10 753.50,301.20 750.20,296.60" fill="#2fcc1c" stroke="#2fcc1c" stroke-width="0.8" stroke-linejoin="round"/>
<line x1="739.9" y1="499.8" x2="758.6" y2="499.8" stroke="#555" stroke-width="1"/>
<line x1="739.9" y1="499.8" x2="712.1999999999999" y2="529.2" stroke="#555" stroke-width="1"/>
<circle cx="758.6" cy="499.8" r="5.5" fill="#2848ee" stroke="#555" stroke-width="0.6"/>
<circle cx="739.9" cy="499.8" r="5.5" fill="#fbef05" stroke="#555" stroke-width="0.8"/>
<rect x="721.1999999999999" y="508.40000000000003" width="10.5" height="10.3" fill="#2848ee" stroke="#555" stroke-width="0.6"/>
<circle cx="712.1999999999999" cy="529.2" r="5.5" fill="#fbef05" stroke="#555" stroke-width="0.8"/>
<text x="765.6999999999999" y="505.1" font-family="Liberation Sans, sans-serif" font-size="17.5">α</text>
<path d="M 765.53 518.37 A 11.1 11.1 0 1 1 760.97 511.21" fill="none" stroke="#2fcc1c" stroke-width="2.3"/>
<polygon points="748.70,519.90 750.30,518.50 753.80,522.70 760.50,515.10 767.50,510.40 764.70,513.70 758.20,521.60 754.00,527.10 752.20,526.20 748.90,521.60" fill="#2fcc1c" stroke="#2fcc1c" stroke-width="0.8" stroke-linejoin="round"/>
<line x1="739.7" y1="597.8" x2="758.4000000000001" y2="597.8" stroke="#555" stroke-width="1"/>
<line x1="739.7" y1="597.8" x2="712.0" y2="627.1999999999999" stroke="#555" stroke-width="1"/>
<circle cx="758.4000000000001" cy="597.8" r="5.5" fill="#2848ee" stroke="#555" stroke-width="0.6"/>
<circle cx="739.7" cy="597.8" r="5.5" fill="#fbef05" stroke="#555" stroke-width="0.8"/>
<rect x="721.0" y="606.4" width="10.5" height="10.3" fill="#2848ee" stroke="#555" stroke-width="0.6"/>
<circle cx="712.0" cy="627.1999999999999" r="5.5" fill="#fbef05" stroke="#555" stroke-width="0.8"/>
<text x="765.5" y="603.0999999999999" font-family="Liberation Sans, sans-serif" font-size="17.5">α</text>
<path d="M 765.33 616.37 A 11.1 11.1 0 1 1 760.77 609.21" fill="none" stroke="#2fcc1c" stroke-width="2.3"/>
<polygon points="748.50,617.90 750.10,616.50 753.60,620.70 760.30,613.10 767.30,608.40 764.50,611.70 758.00,619.60 753.80,625.10 752.00,624.20 748.70,619.60" fill="#2fcc1c" stroke="#2fcc1c" stroke-width="0.8" stroke-linejoin="round"/>
</svg>
</body></html>
